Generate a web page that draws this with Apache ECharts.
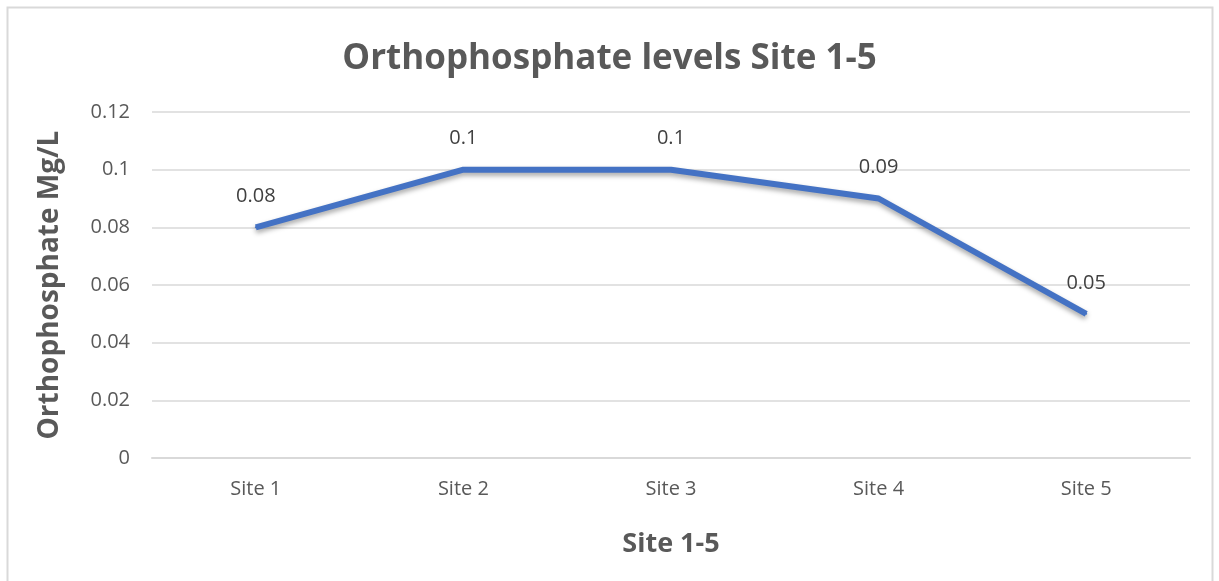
<!DOCTYPE html>
<html>
<head>
<meta charset="utf-8">
<script src="https://cdn.jsdelivr.net/npm/echarts@6/dist/echarts.min.js"></script>
<style>
  html, body { margin: 0; padding: 0; background: #fff; }
  #chart { width: 1219px; height: 581px; }
</style>
</head>
<body>
<div id="chart"></div>
<script>
const sites = ['Site 1', 'Site 2', 'Site 3', 'Site 4', 'Site 5']
const orthophosphate = [0.08, 0.1, 0.1, 0.09, 0.05]

const textColor = '#595959'
const font = '"Open Sans", sans-serif'

const chart = echarts.init(document.getElementById('chart'))

chart.setOption({
  animation: false,
  backgroundColor: '#fff',
  graphic: [{
    type: 'rect',
    shape: { x: 7.5, y: 7.5, width: 1205, height: 590 },
    style: { fill: 'none', stroke: '#d9d9d9', lineWidth: 2 },
    silent: true
  }],
  title: {
    text: 'Orthophosphate levels Site 1-5',
    left: 'center',
    top: 37,
    textStyle: { fontFamily: font, fontSize: 35, fontWeight: 'bold', color: textColor }
  },
  grid: { left: 152, right: 29, top: 112, bottom: 123 },
  xAxis: {
    type: 'category',
    data: sites,
    boundaryGap: true,
    name: 'Site 1-5',
    nameLocation: 'middle',
    nameGap: 73,
    nameTextStyle: { fontFamily: font, fontSize: 27, fontWeight: 'bold', color: textColor },
    axisLine: { lineStyle: { color: '#d9d9d9', width: 2 } },
    axisTick: { show: false },
    axisLabel: { fontFamily: font, fontSize: 20, color: textColor, margin: 21 }
  },
  yAxis: {
    type: 'value',
    min: 0,
    max: 0.12,
    interval: 0.02,
    name: 'Orthophosphate Mg/L',
    nameLocation: 'middle',
    nameGap: 88,
    nameTextStyle: { fontFamily: font, fontSize: 28, fontWeight: 'bold', color: textColor },
    axisLine: { show: false },
    axisTick: { show: false },
    axisLabel: { fontFamily: font, fontSize: 20, color: textColor, margin: 22 },
    splitLine: { lineStyle: { color: '#d9d9d9', width: 1.5 } }
  },
  series: [{
    type: 'line',
    data: orthophosphate,
    symbol: 'circle',
    symbolSize: 2,
    showSymbol: true,
    itemStyle: { color: '#4472c4' },
    lineStyle: {
      color: '#4472c4',
      width: 6,
      shadowColor: 'rgba(0,0,0,0.35)',
      shadowBlur: 5,
      shadowOffsetY: 3
    },
    label: {
      show: true,
      position: 'top',
      distance: 20,
      fontFamily: font,
      fontSize: 20,
      color: '#404040'
    }
  }]
})
</script>
</body>
</html>
